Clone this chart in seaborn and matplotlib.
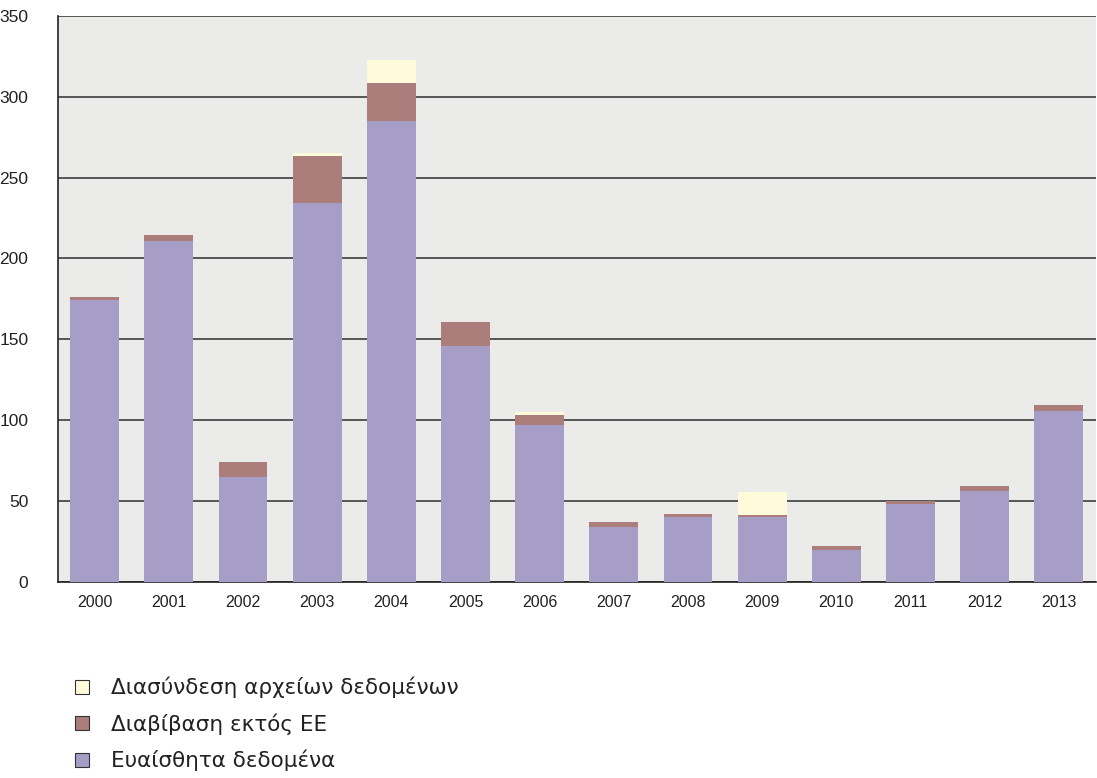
import numpy as np
import pandas as pd
import seaborn as sns
import matplotlib.pyplot as plt
from matplotlib.patches import Patch
from matplotlib.ticker import MultipleLocator

# values
years = ['2000', '2001', '2002', '2003', '2004', '2005', '2006',
         '2007', '2008', '2009', '2010', '2011', '2012', '2013']
sensitive = [174, 211, 65, 234, 285, 146, 97, 34, 40, 40, 20, 48, 56, 106]
transfer = [2, 3.5, 9, 29, 23.5, 15, 6, 3, 2, 1.5, 2, 2, 3.5, 3.5]
linking = [0, 0, 0, 2, 14, 0, 2, 0, 0, 14, 0, 0, 0, 0]

labels = ['Διασύνδεση αρχείων δεδομένων', 'Διαβίβαση εκτός ΕΕ', 'Ευαίσθητα δεδομένα']
colors = ['#FFFADA', '#AB7D7B', '#A69EC7']

sns.set_style('white')
plt.rcParams['font.family'] = ['Liberation Sans Narrow', 'Liberation Sans', 'DejaVu Sans']

df = pd.DataFrame({'year': years, 'sens': sensitive, 'trans': transfer, 'link': linking})
df['lvl2'] = df['sens'] + df['trans']
df['lvl3'] = df['lvl2'] + df['link']

fig = plt.figure(figsize=(10.97, 7.78), dpi=100)
ax = fig.add_axes([0.0525, 0.2519, 0.9465, 0.7279])
ax.set_facecolor('#EBECEA')

# stacked by drawing cumulative totals, tallest first
for col, c in zip(['lvl3', 'lvl2', 'sens'], colors):
    sns.barplot(data=df, x='year', y=col, color=c, width=0.66,
                saturation=1, linewidth=0, ax=ax, zorder=3)

ax.set_ylim(0, 350)
ax.set_xlim(-0.5, len(years) - 0.5)
ax.yaxis.set_major_locator(MultipleLocator(50))
ax.grid(axis='y', color='#4a4a4a', linewidth=1.3, zorder=1)
ax.set_axisbelow(True)
ax.set_xlabel('')
ax.set_ylabel('')

for s in ['top', 'right']:
    ax.spines[s].set_visible(False)
for s in ['left', 'bottom']:
    ax.spines[s].set_color('#222222')
    ax.spines[s].set_linewidth(1.2)

ax.set_xticks(np.arange(len(years)))
ax.set_xticklabels(years)
ax.set_xticks(np.arange(len(years) + 1) - 0.5, minor=True)
ax.tick_params(axis='x', which='major', length=0, pad=9, labelsize=11.5, labelcolor='#222222')
ax.tick_params(axis='x', which='minor', length=6, width=1.2, color='#222222', direction='out')
ax.tick_params(axis='y', length=11, width=1.2, color='#222222', direction='out', pad=10,
               labelsize=12.5, labelcolor='#222222')

handles = [Patch(facecolor=c, edgecolor='#333333', linewidth=0.8) for c in colors]
fig.legend(handles, labels, loc='upper left', bbox_to_anchor=(0.051, 0.155),
           frameon=False, handlelength=0.65, handleheight=0.65, handletextpad=1.0,
           labelspacing=0.7, prop={'family': ['DejaVu Sans'], 'size': 15.5},
           labelcolor='#222222')

fig.savefig('out.png', dpi=100)
